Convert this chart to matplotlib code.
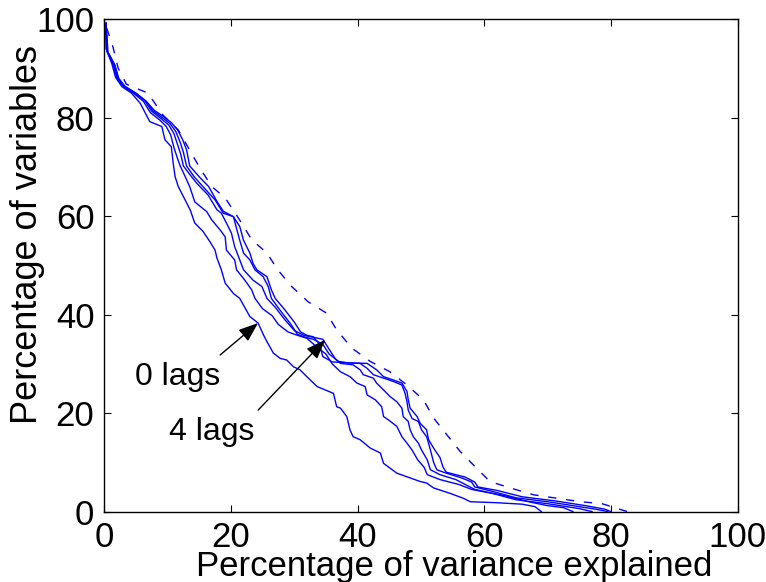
import matplotlib.pyplot as plt

# curves: percentage of variables vs percentage of variance explained
lag0_x = [0.2, 0.3, 1.2, 1.8, 2.8, 4.3, 5.7, 7.2, 9.1, 9.6, 10.6, 10.9, 11.2, 11.7, 12.5, 13.6, 14.3, 15.6, 16.7, 17.5,
          17.8, 18.5, 19.1, 20.4, 21.4, 23.0, 24.3, 25.1, 25.7, 26.7, 27.8, 28.8, 29.9, 30.9, 32.0, 33.6, 36.2, 36.7, 37.3, 38.3,
          38.8, 39.3, 40.4, 42.0, 43.6, 44.1, 46.2, 49.9, 50.9, 52.0, 54.6, 56.7, 57.8, 62.0, 66.0, 68.0, 69.0]
lag0_y = [99.0, 94.0, 91.0, 88.2, 86.3, 85.0, 82.9, 79.2, 78.2, 75.5, 74.1, 70.7, 68.0, 66.0, 64.0, 61.2, 58.6, 56.9, 54.8, 53.1,
          51.5, 49.1, 46.4, 44.3, 43.3, 39.6, 38.3, 36.0, 34.5, 32.2, 31.1, 30.8, 29.4, 28.8, 27.4, 25.4, 24.0, 21.3, 21.0, 19.3,
          16.6, 15.2, 14.6, 12.9, 11.9, 9.8, 7.8, 6.1, 5.8, 4.8, 3.7, 2.7, 2.0, 1.8, 1.5, 1.0, 0.0]

lag1_x = [0.3, 0.4, 1.4, 2.0, 3.0, 4.6, 6.2, 7.3, 8.8, 9.8, 10.5, 11.0, 11.5, 12.0, 12.8, 13.5, 14.3, 16.2, 17.0, 18.3,
          19.1, 19.3, 20.6, 20.9, 22.2, 23.3, 23.8, 25.0, 26.5, 27.5, 29.0, 30.5, 32.0, 33.5, 35.0, 36.0, 37.3, 38.8, 39.9, 41.2,
          41.5, 42.8, 43.8, 44.1, 44.9, 46.2, 47.0, 47.8, 48.6, 49.5, 50.5, 51.0, 53.0, 56.0, 58.0, 60.0, 63.0, 67.0, 70.0, 72.5,
          74.0]
lag1_y = [99.3, 93.6, 90.8, 88.0, 86.4, 85.0, 83.3, 81.0, 79.5, 78.2, 76.5, 74.0, 72.0, 70.2, 68.0, 66.0, 62.9, 60.9, 59.2, 57.2,
          55.8, 53.1, 51.1, 49.1, 47.0, 45.0, 43.3, 41.2, 39.8, 38.0, 36.5, 35.8, 35.2, 33.5, 32.0, 30.0, 28.4, 27.4, 26.1, 25.4,
          23.7, 22.7, 21.3, 19.3, 18.6, 17.3, 15.2, 13.9, 12.5, 10.5, 9.0, 7.5, 6.5, 5.5, 4.5, 4.0, 3.3, 2.0, 1.2, 0.8,
          0.0]

lag2_x = [0.3, 0.5, 1.5, 2.1, 3.1, 4.8, 6.4, 7.5, 9.0, 10.2, 11.0, 11.6, 12.1, 12.5, 13.5, 14.6, 16.4, 17.8, 18.5, 19.3,
          20.1, 20.6, 21.2, 22.0, 23.5, 24.9, 25.7, 27.0, 28.5, 30.0, 31.5, 33.0, 34.5, 35.5, 36.5, 37.3, 39.3, 40.4, 40.9, 42.5,
          43.0, 44.1, 45.1, 46.2, 47.0, 47.2, 48.0, 48.3, 48.8, 49.6, 50.1, 51.0, 51.5, 53.0, 55.5, 57.0, 58.5, 61.0, 65.0, 70.0,
          75.0, 77.0]
lag2_y = [99.2, 93.5, 90.9, 88.1, 86.5, 85.1, 83.5, 81.3, 79.8, 78.5, 76.8, 74.5, 72.5, 70.2, 68.5, 66.7, 64.3, 61.3, 60.6, 58.6,
          56.5, 53.8, 51.8, 49.1, 47.0, 45.7, 43.3, 41.5, 39.0, 36.8, 35.8, 35.4, 35.0, 33.0, 31.0, 30.1, 29.8, 28.8, 27.8, 27.1,
          26.1, 24.7, 23.4, 22.3, 21.0, 19.3, 18.3, 16.6, 15.2, 13.9, 12.5, 10.5, 8.5, 7.5, 6.5, 5.5, 4.5, 3.8, 2.4, 1.6,
          0.6, 0.0]

lag3_x = [0.3, 0.5, 1.6, 2.2, 3.2, 4.9, 6.5, 7.7, 9.2, 10.4, 11.3, 12.0, 12.5, 13.0, 14.2, 15.6, 17.5, 18.8, 20.4, 20.9,
          21.4, 22.0, 23.0, 23.8, 25.1, 25.9, 26.4, 28.0, 29.5, 30.5, 31.5, 33.0, 34.5, 35.5, 37.0, 38.5, 40.4, 41.5, 42.5, 44.1,
          45.7, 47.0, 47.5, 47.8, 48.0, 48.6, 49.6, 50.1, 50.9, 51.2, 51.5, 52.0, 52.5, 54.0, 56.5, 58.0, 58.5, 61.0, 65.0, 70.0,
          75.0, 77.5, 79.5]
lag3_y = [99.1, 93.4, 90.8, 88.0, 86.4, 85.0, 83.4, 81.4, 80.0, 78.8, 77.2, 75.0, 73.0, 70.2, 68.0, 66.0, 63.3, 60.6, 59.9, 57.5,
          55.1, 52.5, 51.1, 49.1, 47.7, 45.7, 43.3, 40.5, 38.0, 36.0, 35.5, 35.0, 34.0, 32.0, 30.5, 30.2, 30.1, 29.1, 27.8, 27.1,
          26.4, 25.7, 24.0, 22.3, 20.6, 18.9, 18.3, 16.6, 15.2, 13.9, 12.5, 10.0, 8.5, 7.8, 6.8, 6.0, 5.0, 4.2, 2.8, 2.0,
          1.0, 0.5, 0.0]

lag4_x = [0.3, 0.6, 1.7, 2.3, 3.3, 5.0, 6.6, 7.9, 9.4, 10.6, 11.6, 12.4, 13.0, 13.5, 15.0, 16.5, 17.8, 18.8, 20.4, 21.4,
          22.0, 23.0, 23.5, 24.1, 25.7, 26.4, 27.0, 28.5, 30.0, 31.0, 32.0, 33.0, 34.0, 34.5, 36.0, 38.5, 41.5, 43.0, 44.1, 45.7,
          47.0, 47.8, 48.0, 48.3, 49.4, 49.9, 50.9, 51.2, 52.2, 53.0, 53.5, 54.0, 57.0, 58.5, 59.0, 62.0, 66.0, 71.0, 76.0, 79.0,
          80.0]
lag4_y = [99.0, 93.3, 90.7, 88.0, 86.3, 85.0, 83.4, 81.5, 80.2, 79.0, 77.5, 75.5, 73.5, 70.2, 68.0, 66.0, 63.0, 61.0, 59.9, 57.9,
          55.1, 52.5, 50.4, 49.1, 47.7, 45.0, 43.3, 41.0, 38.5, 36.5, 35.8, 35.5, 34.0, 31.5, 30.4, 30.2, 30.1, 28.8, 27.4, 26.7,
          26.1, 24.4, 22.7, 21.0, 19.3, 17.9, 16.6, 14.6, 12.5, 11.0, 9.0, 8.0, 7.0, 6.0, 5.0, 4.3, 3.0, 2.2, 1.2, 0.5,
          0.0]

# dashed curve
ref_x = [0.4, 1.4, 2.2, 3.5, 5.0, 6.9, 9.3, 11.7, 13.5, 15.1, 17.0, 19.1, 21.4, 23.3, 25.7, 27.4, 29.6, 32.2, 35.1, 36.7,
         39.1, 42.0, 45.1, 47.8, 50.4, 52.0, 54.1, 56.2, 58.8, 60.9, 64.1, 67.8, 71.5, 75.2, 78.6, 81.7, 82.6]
ref_y = [98.2, 94.3, 90.1, 86.8, 86.0, 85.0, 80.5, 77.5, 73.4, 69.8, 66.0, 63.7, 59.2, 55.2, 52.5, 49.1, 45.7, 42.6, 40.3, 36.9,
         33.2, 30.5, 28.4, 25.7, 22.7, 19.0, 15.6, 12.2, 8.8, 6.1, 4.8, 3.4, 2.7, 2.0, 1.6, 0.35, 0.0]

plt.rcParams['font.family'] = ['Liberation Sans', 'DejaVu Sans']

fig = plt.figure(figsize=(7.66, 5.82), dpi=100)
ax = fig.add_axes([0.136, 0.121, 0.827, 0.846])

blue = '#0000ff'
for xs, ys in [(lag0_x, lag0_y), (lag1_x, lag1_y), (lag2_x, lag2_y), (lag3_x, lag3_y), (lag4_x, lag4_y)]:
    ax.plot(xs, ys, color=blue, lw=1.0)
ax.plot(ref_x, ref_y, color=blue, lw=1.0, dashes=(6, 7))

# arrows + labels
arrow = dict(arrowstyle='-|>,head_length=0.8,head_width=0.3', color='k', lw=1.0,
             mutation_scale=15, shrinkA=0, shrinkB=0)
ax.annotate('', xy=(24.3, 38.3), xytext=(18.3, 31.8), arrowprops=arrow)
ax.annotate('', xy=(34.9, 34.9), xytext=(24.3, 20.6), arrowprops=arrow)
ax.text(11.6, 27.3, '0 lags', fontsize=23, ha='center', va='center')
ax.text(17.0, 16.2, '4 lags', fontsize=23, ha='center', va='center')

ax.set_xlim(0, 100)
ax.set_ylim(0, 100)
ax.set_xticks([0, 20, 40, 60, 80, 100])
ax.set_yticks([0, 20, 40, 60, 80, 100])
ax.tick_params(direction='in', length=5, width=0.8, top=True, right=True,
               labelsize=25, pad=7)
for s in ax.spines.values():
    s.set_linewidth(1.0)

# labels sit off-centre in the original figure
ax.set_xlabel('Percentage of variance explained', fontsize=25)
ax.set_ylabel('Percentage of variables', fontsize=26)
ax.xaxis.set_label_coords(0.552, -0.078)
ax.yaxis.set_label_coords(-0.094, 0.562)

fig.savefig('out.png', dpi=100)
